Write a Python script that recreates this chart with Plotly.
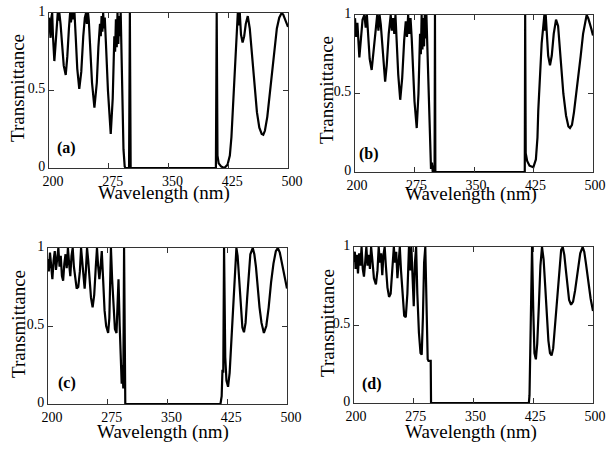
import plotly.graph_objects as go

# ---------------- data ----------------
wl_a = [200, 201, 202, 203, 204, 205, 206.7, 208, 209.5, 211, 212, 213, 214.5, 216, 218.5, 221, 223, 225,
        226.5, 227.5, 229, 230.5, 232, 233.5, 235.5, 238, 240.5, 243, 245, 246.5, 247.5, 249, 250, 251.5,
        254, 257, 260, 262, 264, 265, 266, 267, 268, 269, 270, 271.5, 274, 277.5, 280, 282, 283, 284, 285,
        286, 287, 288, 289, 290, 291, 292, 293.5, 295, 296, 300.5, 301.5, 302.5, 409.5, 410.5, 411.5, 413,
        416, 420, 424, 427, 429, 431, 433, 435, 437, 438.5, 439.5, 441, 443, 445, 447, 449.5, 452, 455, 458,
        461, 464, 467, 469, 471, 474, 477, 480, 483, 486, 489, 492, 494, 496, 498, 500]
T_a = [0.97, 0.90, 0.84, 0.97, 1.00, 0.85, 0.69, 0.78, 0.92, 1.00, 0.95, 1.00, 0.93, 0.80, 0.66, 0.60, 0.72, 0.90,
       1.00, 0.94, 1.00, 0.96, 1.00, 0.85, 0.64, 0.51, 0.62, 0.85, 0.97, 1.00, 0.93, 1.00, 0.95, 0.80,
       0.55, 0.39, 0.55, 0.78, 0.93, 0.85, 0.98, 0.88, 1.00, 0.90, 0.97, 0.80, 0.50, 0.22, 0.45, 0.85, 0.75, 0.96, 0.78,
       1.00, 0.80, 0.98, 0.85, 1.00, 0.75, 0.45, 0.12, 0.01, 0.0, 0.0, 1.0, 0.0, 0.0, 1.0, 0.08, 0.03,
       0.01, 0.0, 0.02, 0.08, 0.20, 0.40, 0.62, 0.85, 1.00, 0.92, 1.00, 0.86, 0.81, 0.85, 0.93, 0.98, 0.90, 0.72, 0.52,
       0.36, 0.26, 0.22, 0.215, 0.24, 0.33, 0.48, 0.62, 0.78, 0.90, 0.97, 1.00, 0.99, 0.96, 0.93, 0.91]

wl_b = [200, 201.5, 203, 205.5, 207.5, 209.5, 211.8, 213.5, 215, 216.5, 218.5, 221, 223.5, 226, 228, 229.5, 231,
        232.5, 234.5, 236.5, 238, 240, 242.5, 245, 246.5, 248, 249.5, 251, 252.5, 254.5, 257, 259.5, 262, 264,
        265.5, 267, 268.5, 270, 271.5, 273, 275, 277.8, 280, 282, 283, 284, 285, 286, 287, 288, 289, 290, 291.5,
        293, 294.5, 295.8, 297, 298, 299, 300.3, 300.8, 301.3, 414, 414.5, 415.2, 417, 420, 424.8, 428, 430, 431,
        433, 435.3, 438.7, 439.5, 440.4, 442, 443.5, 445.8, 448, 450.5, 453.4, 456, 459, 462.6, 466, 469, 471,
        473.5, 476, 478.5, 481.5, 484.5, 487.5, 490, 492, 494, 496, 498, 500]
T_b = [0.98, 0.86, 0.95, 0.73, 0.85, 0.97, 1.00, 0.92, 1.00, 0.85, 0.72, 0.65, 0.78, 0.93, 1.00, 0.90, 1.00,
       0.94, 0.78, 0.63, 0.575, 0.68, 0.88, 1.00, 0.90, 0.98, 0.88, 1.00, 0.82, 0.62, 0.46, 0.60, 0.84, 0.96,
       0.86, 1.00, 0.88, 0.98, 0.85, 0.66, 0.45, 0.28, 0.50, 0.88, 0.75, 1.00, 0.78, 0.98, 0.80, 1.00, 0.85, 1.00, 0.75,
       0.42, 0.15, 0.02, 0.06, 0.0, 0.04, 0.0, 1.0, 0.0, 0.0, 1.0, 0.12, 0.07, 0.04, 0.03, 0.08, 0.22, 0.39,
       0.62, 0.82, 1.00, 0.90, 1.00, 0.84, 0.74, 0.68, 0.74, 0.88, 0.97, 0.93, 0.75, 0.50, 0.36, 0.29, 0.28,
       0.30, 0.38, 0.48, 0.59, 0.74, 0.88, 0.96, 1.00, 0.98, 0.95, 0.91, 0.87]

wl_c = [200, 201, 202.5, 204, 205.5, 207, 208.5, 210, 211.5, 213, 214.5, 216, 217.5, 219, 220.5, 222, 223.5,
        225, 226.5, 228, 229.5, 231, 232.5, 234, 236, 238, 240, 241.5, 243, 244.5, 246, 247.5, 249, 250.5, 252,
        254, 256, 258, 260, 261.5, 263, 264.5, 266, 267.5, 269, 271, 273, 275.5, 277, 279, 280.5, 282, 284,
        286, 288.5, 290, 291.5, 292.5, 293.5, 294.5, 295.5, 296.5, 297, 416.5, 418, 419, 420, 421, 422.5, 424,
        426, 428, 430, 432.5, 434.5, 436.5, 438, 440, 442, 444, 446, 448, 450, 452, 454, 457, 459, 461, 463,
        465.5, 468, 471, 474, 477, 480, 483, 486, 488.5, 491, 493, 495, 497, 500]
T_c = [0.93, 0.85, 0.97, 0.88, 0.80, 0.92, 0.98, 0.86, 0.93, 1.00, 0.88, 0.95, 0.82, 0.79, 0.90, 0.96, 0.87,
       1.00, 0.90, 0.82, 0.95, 1.00, 0.88, 0.80, 0.74, 0.75, 0.85, 1.00, 0.90, 0.80, 0.74, 0.85, 1.00, 0.92, 0.80,
       0.68, 0.62, 0.70, 0.88, 1.00, 0.88, 0.80, 0.88, 0.98, 0.82, 0.60, 0.50, 0.455, 0.55, 1.00, 0.80, 0.62, 0.48,
       0.455, 0.80, 0.50, 0.25, 0.13, 0.25, 0.10, 1.00, 0.02, 0.0, 0.0, 0.05, 0.22, 0.20, 1.00, 0.30, 0.15,
       0.11, 0.20, 0.38, 0.60, 0.85, 1.00, 0.95, 0.80, 0.60, 0.49, 0.46, 0.52, 0.68, 0.85, 0.96, 1.00, 0.96, 0.88, 0.76,
       0.62, 0.52, 0.455, 0.50, 0.62, 0.78, 0.90, 0.98, 1.00, 0.97, 0.92, 0.86, 0.80, 0.74]

wl_d = [200, 201, 202, 203.5, 205, 206.5, 208, 209.5, 211, 212.5, 214, 215.5, 217, 218.5, 220, 221.5, 223,
        225, 227.5, 229.5, 231, 232.5, 234, 235.5, 237, 238.5, 240, 242, 244, 246, 248, 250, 251.5, 253, 254.5,
        256, 257.5, 259, 261, 263, 265, 267, 269, 270.5, 272, 273.5, 275, 276.5, 278, 279.5, 281.5, 283.5, 285,
        286.5, 288, 289.5, 290.5, 291.5, 292.5, 293.5, 296.3, 296.7, 419.5, 420.3, 421, 422, 423.5, 425, 426.5,
        428.3, 430, 432, 434, 436, 438, 440, 442, 444, 446, 448, 450, 452, 454, 456, 458, 460, 462, 464, 466,
        468, 470, 472.5, 475, 477.5, 480, 482, 484, 487, 489, 491, 493, 495, 497, 500]
T_d = [0.90, 0.97, 0.86, 0.95, 0.83, 0.96, 0.88, 1.00, 0.86, 0.81, 0.90, 1.00, 0.88, 0.95, 0.86, 1.00, 0.92,
       0.80, 0.76, 0.85, 1.00, 0.90, 0.96, 0.82, 0.95, 1.00, 0.88, 0.74, 0.68, 0.70, 0.85, 1.00, 0.90, 0.97, 0.80,
       0.94, 1.00, 0.85, 0.68, 0.56, 0.55, 0.70, 1.00, 0.85, 1.00, 0.75, 0.62, 0.90, 1.00, 0.70, 0.45, 0.32, 0.31,
       0.55, 0.90, 1.00, 0.70, 0.40, 0.28, 0.27, 0.27, 0.0, 0.0, 0.05, 0.28, 0.50, 1.00, 0.60, 0.32,
       0.28, 0.38, 0.62, 0.88, 1.00, 0.92, 0.75, 0.55, 0.40, 0.32, 0.305, 0.35, 0.48, 0.62, 0.78, 0.90, 0.98, 1.00, 0.95, 0.85,
       0.74, 0.66, 0.63, 0.65, 0.72, 0.82, 0.90, 0.96, 1.00, 0.97, 0.90, 0.82, 0.74, 0.67, 0.59]

panel_labels = ["(a)", "(b)", "(c)", "(d)"]
x_ticks = [200, 275, 350, 425, 500]
y_ticks = [0, 0.5, 1]
y_tick_text = ["0", "0.5", "1"]
x_title = "Wavelength (nm)"
y_title = "Transmittance"

# ---------------- layout geometry (pixels) ----------------
W, H = 608, 454
FONT = "'Liberation Serif', 'Times New Roman', Times, serif"
# (left, right, top, bottom) of each plot box in pixels
boxes = [(49, 288, 13, 168), (355, 593, 15, 172), (48, 287, 248, 404), (354, 593, 247, 403)]
label_pos = [(66, 148), (369, 154), (67, 383), (372, 384)]
ytitle_pos = [(18, 88), (326, 90), (18, 324), (327, 323)]
xtitle_pos = [(164, 193), (471, 194), (163, 432), (471, 432)]
x_label_shift = [4, 2, 4, 2]

series = [(wl_a, T_a), (wl_b, T_b), (wl_c, T_c), (wl_d, T_d)]

fig = go.Figure()
annotations = []
for i, (wl, T) in enumerate(series):
    n = "" if i == 0 else str(i + 1)
    fig.add_trace(go.Scatter(x=wl, y=T, mode="lines", xaxis="x" + n, yaxis="y" + n,
                             line=dict(color="black", width=2.2), showlegend=False,
                             hoverinfo="skip"))
    l, r, t, b = boxes[i]
    common = dict(showline=True, linecolor="#333", linewidth=1, mirror="ticks", ticks="inside",
                  ticklen=5, tickwidth=1, tickcolor="#333", showgrid=False, zeroline=False,
                  tickfont=dict(family=FONT, size=14, color="black"), fixedrange=True)
    fig.update_layout({
        "xaxis" + n: dict(domain=[l / W, r / W], range=[200, 500], anchor="y" + n,
                          tickvals=x_ticks, ticktext=[str(v) for v in x_ticks],
                          ticklabelshift=x_label_shift[i], **common),
        "yaxis" + n: dict(domain=[1 - b / H, 1 - t / H], range=[0, 1], anchor="x" + n,
                          tickvals=y_ticks, ticktext=y_tick_text,
                          ticklabelshift=-2, **common),
    })
    ann = dict(xref="paper", yref="paper", showarrow=False, xanchor="center", yanchor="middle")
    lx, ly = label_pos[i]
    annotations.append(dict(x=lx / W, y=1 - ly / H, text="<b>" + panel_labels[i] + "</b>",
                            font=dict(family=FONT, size=16, color="black"), **ann))
    tx, ty = ytitle_pos[i]
    annotations.append(dict(x=tx / W, y=1 - ty / H, text=y_title, textangle=-90,
                            font=dict(family=FONT, size=19, color="black"), **ann))
    wx, wy = xtitle_pos[i]
    annotations.append(dict(x=wx / W, y=1 - wy / H, text=x_title,
                            font=dict(family=FONT, size=19, color="black"), **ann))

fig.update_layout(width=W, height=H, margin=dict(l=0, r=0, t=0, b=0, autoexpand=False),
                  paper_bgcolor="white", plot_bgcolor="white", annotations=annotations)

fig.write_html("out.html")
